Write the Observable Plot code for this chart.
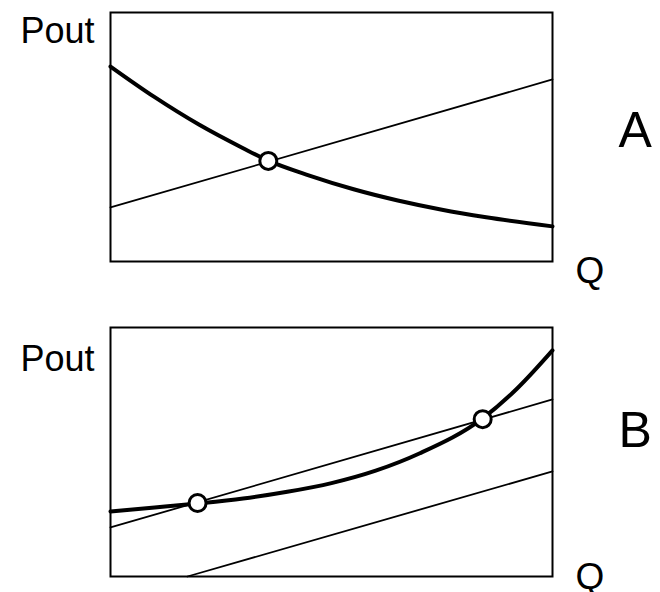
<!DOCTYPE html>
<html><head><meta charset="utf-8">
<script src="https://cdn.jsdelivr.net/npm/d3@7"></script>
<script src="https://cdn.jsdelivr.net/npm/@observablehq/plot@0.6"></script>
<style>
html,body{margin:0;padding:0;background:#fff;}
#chart{width:660px;height:592px;overflow:hidden;position:relative;}
#chart svg{display:block;overflow:visible;}
</style></head><body><div id="chart"></div>
<script>
// ---- Panel A ----
const curveAQ = [0, 0.1, 0.2, 0.3, 0.357, 0.45, 0.55, 0.65, 0.75, 0.85, 1.0];
const curveAP = [0.783, 0.66, 0.55, 0.455, 0.405, 0.345, 0.290, 0.245, 0.208, 0.178, 0.141];
const lineAQ = [0, 1];
const lineAP = [0.217, 0.731];
const pointAQ = [0.357];
const pointAP = [0.404];
// ---- Panel B ----
const curveBQ = [0, 0.1, 0.197, 0.3, 0.4, 0.5, 0.6, 0.7, 0.842, 0.92, 1.0];
const curveBP = [0.261, 0.277, 0.293, 0.313, 0.340, 0.375, 0.425, 0.495, 0.635, 0.755, 0.908];
const upperBQ = [0, 1];
const upperBP = [0.197, 0.711];
const lowerBQ = [0.174, 1];
const lowerBP = [0, 0.422];
const pointBQ = [0.197, 0.842];
const pointBP = [0.295, 0.632];
// ---- labels ----
const yLabel = "Pout";
const xLabel = "Q";
const panelLabels = ["A", "B"];

const zip = (xs, ys) => xs.map((x, i) => ({x, y: ys[i]}));
const font = "'Liberation Sans', Arial, sans-serif";

function panel({curve, lines, points, name, mt, mb, poutDy, qDy, nameDy}) {
  return Plot.plot({
    width: 660, height: 296,
    marginLeft: 110, marginRight: 108, marginTop: mt, marginBottom: mb,
    style: {fontFamily: font, background: "white", overflow: "visible"},
    x: {domain: [0, 1], axis: null},
    y: {domain: [0, 1], axis: null},
    marks: [
      Plot.frame({stroke: "black", strokeWidth: 2}),
      ...lines.map(l => Plot.line(l, {x: "x", y: "y", stroke: "black", strokeWidth: 1.8})),
      Plot.line(curve, {x: "x", y: "y", curve: "monotone-x", stroke: "black", strokeWidth: 4}),
      Plot.dot(points, {x: "x", y: "y", r: 8.5, fill: "white", stroke: "black", strokeWidth: 3}),
      Plot.text([yLabel], {frameAnchor: "top-left", dx: -90, dy: poutDy, textAnchor: "start", lineAnchor: "bottom", fontSize: 36, fill: "black"}),
      Plot.text([xLabel], {frameAnchor: "bottom-right", dx: 23, dy: qDy, textAnchor: "start", lineAnchor: "bottom", fontSize: 37, fill: "black"}),
      Plot.text([name], {frameAnchor: "right", dx: 66, dy: nameDy, textAnchor: "start", lineAnchor: "bottom", fontSize: 50, fill: "black"})
    ]
  });
}

const root = document.getElementById("chart");
root.appendChild(panel({
  curve: zip(curveAQ, curveAP),
  lines: [zip(lineAQ, lineAP)],
  points: zip(pointAQ, pointAP),
  name: panelLabels[0], mt: 12, mb: 35, poutDy: 30, qDy: 21, nameDy: 9.5
}));
root.appendChild(panel({
  curve: zip(curveBQ, curveBP),
  lines: [zip(upperBQ, upperBP), zip(lowerBQ, lowerBP)],
  points: zip(pointBQ, pointBP),
  name: panelLabels[1], mt: 31, mb: 16, poutDy: 43, qDy: 12, nameDy: -5
}));
</script></body></html>
